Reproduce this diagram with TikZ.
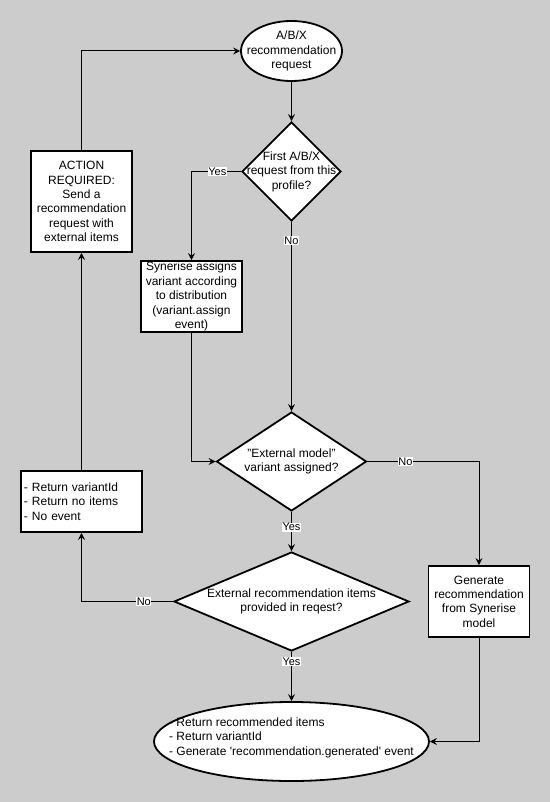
\documentclass[tikz,border=0pt]{standalone}
\usepackage{fontspec}
\setmainfont{Liberation Sans}
\usetikzlibrary{shapes.geometric,arrows.meta}
\definecolor{bggrey}{HTML}{CCCCCC}
\tikzset{mydraw/.style={black,line width=1bp,->,>={Stealth[length=7bp,width=7bp,inset=2.5bp]}}}
\tikzset{mynode/.style={draw,line width=1.8bp,fill=white,font=\fontsize{12bp}{14.4bp}\selectfont,align=center}}
\tikzset{mybox/.style={mynode,rectangle,inner sep=0pt}}
\tikzset{mydiamond/.style={mynode,diamond,inner sep=0pt}}
\tikzset{myellipse/.style={mynode,ellipse,inner sep=0pt}}
\tikzset{mytext/.style={font=\fontsize{12bp}{14.4bp}\selectfont,align=center,inner sep=0pt}}
\tikzset{mylabel/.style={fill=white,inner sep=0.6bp,font=\fontsize{11bp}{12bp}\selectfont}}

\begin{document}
\begin{tikzpicture}[x=1bp,y=-1bp]
	\fill[bggrey] (0,0) rectangle (550,802);

	% Main column
	\node[myellipse,minimum width=101bp,minimum height=60bp,label={[mytext]center:A/B/X\\recommendation\\request}] (start) at (291.5,51) {};
	\node[mydiamond,minimum width=99bp,minimum height=99bp,label={[mytext]center:First A/B/X\\request from this\\profile?}] (first) at (291.5,171.5) {};
	\node[mydiamond,minimum width=150bp,minimum height=99bp,label={[mytext]center:"External model"\\variant assigned?}] (external) at (291.5,461.5) {};
	\node[mydiamond,minimum width=235bp,minimum height=99bp,label={[mytext]center:External recommendation items\\provided in reqest?}] (provided) at (291.5,601.5) {};
	\node[myellipse,minimum width=275bp,minimum height=79bp,label={[mytext,align=left,yshift=4bp]center:- Return recommended items\\- Return variantId\\- Generate \textquotesingle recommendation.generated\textquotesingle{} event}] (result) at (291.5,741.5) {};

	% Side boxes
	\node[mybox,minimum width=101bp,minimum height=101bp] (action) at (81.5,201.5) {ACTION\\REQUIRED:\\Send a\\recommendation\\request with\\external items};
	\node[mybox,minimum width=101bp,minimum height=71bp] (assign) at (191.5,296.5) {Synerise assigns\\variant according\\to distribution\\(variant.assign\\event)};
	\node[mybox,align=left,text width=115bp,inner xsep=3bp,minimum height=61bp] (noitems) at (81.5,501.5) {- Return variantId\\- Return no items\\- No event};
	\node[mybox,minimum width=101bp,minimum height=71bp] (generate) at (479,601.5) {Generate\\recommendation\\from Synerise\\model};

	% Connectors
	\draw[mydraw] (action.north) |- (start.west);
	\draw[mydraw] (start) -- (first);
	\draw[mydraw] (first.west) -| node[mylabel,pos=0.24] {Yes} (assign.north);
	\draw[mydraw] (first) -- node[mylabel,pos=0.1] {No} (external);
	\draw[mydraw] (assign.south) |- (external.west);
	\draw[mydraw] (external.east) -| node[mylabel,pos=0.17] {No} (generate.north);
	\draw[mydraw] (external) -- node[mylabel,pos=0.39] {Yes} (provided);
	\draw[mydraw] (provided.west) -| node[mylabel,pos=0.16] {No} (noitems.south);
	\draw[mydraw] (provided) -- node[mylabel,pos=0.2] {Yes} (result);
	\draw[mydraw] (generate.south) |- (result.east);
	\draw[mydraw] (noitems) -- (action);
\end{tikzpicture}
\end{document}
